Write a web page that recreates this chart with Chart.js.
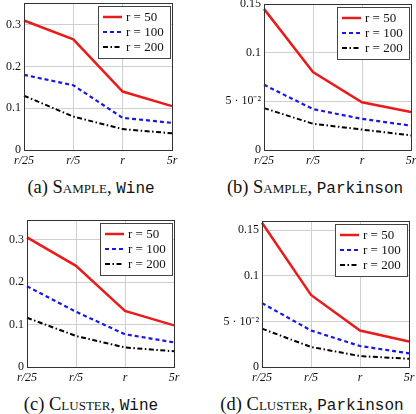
<!doctype html>
<html lang="en">
<head>
<meta charset="utf-8">
<title>Sample / Cluster: Wine, Parkinson</title>
<style>
  * { margin: 0; padding: 0; }
  body { width: 416px; height: 414px; background: #fff; position: relative; overflow: hidden; font-family: 'Liberation Serif', 'Times New Roman', serif; color: #111; }
  .panel { position: absolute; }
  .caption { position: absolute; transform: translateX(-50%); font-size: 18.5px; line-height: 20px; white-space: nowrap; }
  .sc { font-variant: small-caps; }
  .tt { font-family: 'Liberation Mono', 'Courier New', monospace; font-size: 16px; }
</style>
</head>
<body>
<div class="panel" style="left:0;top:0;width:208px;height:172px"><canvas id="chartA"></canvas></div>
<div class="panel" style="left:208px;top:0;width:208px;height:172px"><canvas id="chartB"></canvas></div>
<div class="panel" style="left:0;top:207px;width:208px;height:182px"><canvas id="chartC"></canvas></div>
<div class="panel" style="left:208px;top:207px;width:208px;height:182px"><canvas id="chartD"></canvas></div>

<div class="caption" style="left:91px;top:177px">(a) <span class="sc">Sample</span>, <span class="tt">Wine</span></div>
<div class="caption" style="left:315px;top:177px">(b) <span class="sc">Sample</span>, <span class="tt">Parkinson</span></div>
<div class="caption" style="left:91px;top:394px">(c) <span class="sc">Cluster</span>, <span class="tt">Wine</span></div>
<div class="caption" style="left:312px;top:394px">(d) <span class="sc">Cluster</span>, <span class="tt">Parkinson</span></div>

<script src="https://cdn.jsdelivr.net/npm/chart.js/dist/chart.umd.min.js"></script>
<script>
// data
const categories = ['r/25', 'r/5', 'r', '5r'];
const seriesLabels = ['r = 50', 'r = 100', 'r = 200'];
const yLabelsWine = ['0', '0.1', '0.2', '0.3'];
const yLabelsPark = ['0', '5 · 10⁻²', '0.1', '0.15'];

const sampleWine50 = [0.31, 0.265, 0.14, 0.105];
const sampleWine100 = [0.18, 0.155, 0.077, 0.065];
const sampleWine200 = [0.13, 0.08, 0.05, 0.04];

const samplePark50 = [0.145, 0.08, 0.049, 0.039];
const samplePark100 = [0.067, 0.042, 0.032, 0.025];
const samplePark200 = [0.043, 0.027, 0.021, 0.015];

const clusterWine50 = [0.305, 0.238, 0.132, 0.098];
const clusterWine100 = [0.19, 0.13, 0.077, 0.058];
const clusterWine200 = [0.116, 0.073, 0.046, 0.037];

const clusterPark50 = [0.158, 0.079, 0.04, 0.028];
const clusterPark100 = [0.07, 0.04, 0.023, 0.015];
const clusterPark200 = [0.042, 0.022, 0.012, 0.009];

const SERIF = '"Liberation Serif", "Times New Roman", serif';

const lineStyles = [
  { color: 'rgb(232,28,28)', width: 2.5, dash: [] },
  { color: 'rgb(24,24,228)', width: 2.2, dash: [4, 3] },
  { color: '#000', width: 2, dash: [5, 2.5, 1.5, 2.5] }
];

// frame + legend drawn inside the plot area
const frameLegend = {
  id: 'frameLegend',
  afterDraw(chart) {
    const { ctx, chartArea: a } = chart;
    ctx.save();
    ctx.strokeStyle = '#333';
    ctx.lineWidth = 1;
    ctx.strokeRect(Math.round(a.left) + 0.5, Math.round(a.top) + 0.5,
      Math.round(a.right - a.left), Math.round(a.bottom - a.top));

    const w = 72, h = 52;
    const bx = Math.round(a.right) - 2 - w, by = Math.round(a.top) + 3;
    ctx.fillStyle = '#fff';
    ctx.fillRect(bx, by, w, h);
    ctx.strokeStyle = '#444';
    ctx.strokeRect(bx + 0.5, by + 0.5, w, h);
    ctx.font = '13px ' + SERIF;
    ctx.textBaseline = 'middle';
    chart.data.datasets.forEach((ds, i) => {
      const yy = by + 11 + i * 15;
      ctx.beginPath();
      ctx.strokeStyle = ds.borderColor;
      ctx.lineWidth = ds.borderWidth;
      ctx.setLineDash(ds.borderDash);
      ctx.moveTo(bx + 5, yy);
      ctx.lineTo(bx + 24, yy);
      ctx.stroke();
      ctx.setLineDash([]);
      ctx.fillStyle = '#111';
      ctx.fillText(ds.label, bx + 28, yy + 1);
    });
    ctx.restore();
  }
};

function makeChart(id, series, yMax, yStep, yLabels, yWidth, pad) {
  return new Chart(document.getElementById(id), {
    type: 'line',
    data: {
      labels: categories,
      datasets: series.map((d, i) => ({
        label: seriesLabels[i],
        data: d,
        borderColor: lineStyles[i].color,
        borderWidth: lineStyles[i].width,
        borderDash: lineStyles[i].dash,
        pointRadius: 0,
        tension: 0,
        fill: false
      }))
    },
    options: {
      responsive: true,
      maintainAspectRatio: false,
      animation: false,
      layout: { padding: { top: pad.top, right: pad.right, left: 0, bottom: 0 } },
      plugins: { legend: { display: false }, tooltip: { enabled: false } },
      scales: {
        x: {
          offset: false,
          grid: { color: '#cfcfcf', drawTicks: false },
          border: { display: false },
          ticks: {
            padding: 4,
            maxRotation: 0,
            autoSkip: false,
            color: '#111',
            font: { family: SERIF, size: 12, style: 'italic' }
          },
          afterFit(s) { s.height = pad.xHeight; s.paddingLeft = 0; s.paddingRight = 0; }
        },
        y: {
          min: 0,
          max: yMax,
          grid: { color: '#cfcfcf', drawTicks: false },
          border: { display: false },
          ticks: {
            stepSize: yStep,
            includeBounds: false,
            padding: 3,
            color: '#111',
            font: { family: SERIF, size: 12 },
            callback: (v, i) => yLabels[i]
          },
          afterFit(s) { s.width = yWidth; s.paddingTop = 0; s.paddingBottom = 0; }
        }
      }
    },
    plugins: [frameLegend]
  });
}

makeChart('chartA', [sampleWine50, sampleWine100, sampleWine200], 0.352, 0.1, yLabelsWine, 24,
  { top: 3, right: 36, xHeight: 22 });
makeChart('chartB', [samplePark50, samplePark100, samplePark200], 0.15, 0.05, yLabelsPark, 56,
  { top: 4, right: 5, xHeight: 22 });
makeChart('chartC', [clusterWine50, clusterWine100, clusterWine200], 0.346, 0.1, yLabelsWine, 27,
  { top: 13, right: 34, xHeight: 22 });
makeChart('chartD', [clusterPark50, clusterPark100, clusterPark200], 0.16, 0.05, yLabelsPark, 54,
  { top: 14, right: 7, xHeight: 22 });
</script>
</body>
</html>
